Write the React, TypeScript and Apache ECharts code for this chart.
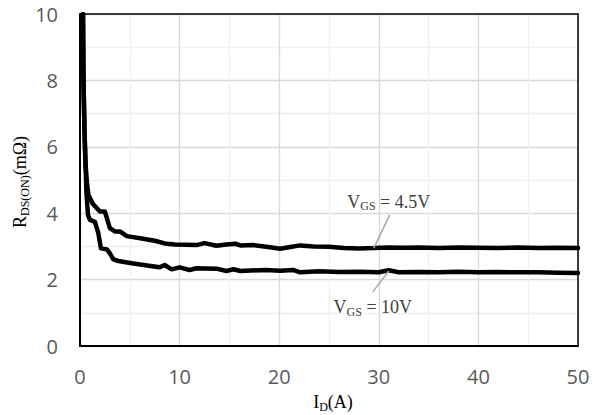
import React, { useEffect, useRef } from "react";
import * as echarts from "echarts";

const xTicks = [0, 10, 20, 30, 40, 50];
const yTicks = [0, 2, 4, 6, 8, 10];

const id45 = [0.3, 0.35, 0.45, 0.55, 0.7, 0.85, 1.3, 2.0, 2.5, 3.0, 3.5, 4.0, 4.7, 6.2, 7.5, 8.5, 9.5, 11.7, 12.5, 13.7, 14.7, 15.6, 16.1, 17.4, 18.7, 20.1, 21.1, 22.1, 23.5, 25, 26.5, 28, 29.5, 31, 32.5, 34, 36, 38, 40, 42, 44, 46, 48, 50];
const r45 = [10, 8, 6.5, 5.5, 4.9, 4.55, 4.28, 4.05, 4.05, 3.55, 3.45, 3.45, 3.31, 3.24, 3.17, 3.09, 3.06, 3.04, 3.1, 3.02, 3.06, 3.08, 3.03, 3.04, 2.99, 2.93, 2.98, 3.03, 3.0, 2.99, 2.95, 2.94, 2.95, 2.97, 2.96, 2.97, 2.95, 2.97, 2.96, 2.95, 2.97, 2.95, 2.96, 2.95];

const id10 = [0.3, 0.35, 0.45, 0.55, 0.65, 0.8, 1.0, 1.5, 1.84, 2.1, 2.7, 3.0, 3.35, 3.85, 5.2, 6.9, 8.0, 8.5, 9.2, 10.0, 11.0, 11.7, 13.7, 14.7, 15.4, 16.1, 18.7, 20.1, 21.4, 22.1, 24, 26, 28, 30, 31, 32, 34, 36, 38, 40, 42, 44, 46, 48, 50];
const r10 = [10, 8, 6.5, 5.5, 4.6, 3.95, 3.8, 3.74, 3.4, 2.94, 2.91, 2.79, 2.61, 2.56, 2.49, 2.42, 2.37, 2.44, 2.31, 2.37, 2.29, 2.34, 2.33, 2.26, 2.31, 2.26, 2.29, 2.27, 2.29, 2.22, 2.25, 2.23, 2.24, 2.22, 2.28, 2.22, 2.23, 2.22, 2.24, 2.22, 2.23, 2.22, 2.22, 2.21, 2.2];

// annotation anchors in data units: text centre, leader start, leader end
const label45 = { text: [31.0, 4.34], from: [31.1, 3.95], to: [29.5, 2.95] };
const label10 = { text: [29.4, 1.17], from: [31.0, 2.26], to: [29.4, 1.63] };

const serif = "'Liberation Serif', 'Times New Roman', serif";
const richSub = {
  m: { fontFamily: serif, fontSize: 18, color: "#404040" },
  s: { fontFamily: serif, fontSize: 12, color: "#404040", padding: [9, 0, 0, 0] },
};

const annot = (l: { text: number[]; from: number[]; to: number[] }, txt: string) => ({
  markLine: {
    silent: true,
    symbol: "none",
    lineStyle: { color: "#a6a6a6", width: 1.5, type: "solid" },
    label: { show: false },
    data: [[{ coord: l.from }, { coord: l.to }]],
  },
  markPoint: {
    silent: true,
    symbol: "circle",
    symbolSize: 0,
    data: [{ coord: l.text }],
    label: { show: true, position: "inside", formatter: txt, rich: richSub },
  },
});

export default function App() {
  const ref = useRef<HTMLDivElement>(null);
  useEffect(() => {
    document.body.style.margin = "0";
    const chart = echarts.init(ref.current!, null, { renderer: "svg" });
    const pair = (xs: number[], ys: number[]) => xs.map((x, i) => [x, ys[i]]);
    const xMin = xTicks[0], xMax = xTicks[xTicks.length - 1];
    const yMin = yTicks[0], yMax = yTicks[yTicks.length - 1];
    const borderAxis = (pos: string) => ({
      type: "value",
      position: pos,
      axisLine: { show: true, onZero: false, lineStyle: { color: "#000", width: 1.5 } },
      axisTick: { show: false },
      axisLabel: { show: false },
      splitLine: { show: false },
    });
    chart.setOption({
      animation: false,
      grid: { left: 80, top: 14, right: 22, bottom: 69 },
      xAxis: [
        {
          type: "value",
          min: xMin,
          max: xMax,
          interval: 10,
          axisLine: { show: true, onZero: false, lineStyle: { color: "#000", width: 2 } },
          axisTick: { show: false },
          minorTick: { show: false, splitNumber: 2 },
          splitLine: { show: true, lineStyle: { color: "#d9d9d9", width: 1.3 } },
          minorSplitLine: { show: true, lineStyle: { color: "#f0f0f0", width: 1.3 } },
          axisLabel: { color: "#595959", fontFamily: "'Open Sans'", fontSize: 20, margin: 20 },
        },
        { ...borderAxis("top"), min: xMin, max: xMax, interval: 10 },
      ],
      yAxis: [
        {
          type: "value",
          min: yMin,
          max: yMax,
          interval: 2,
          axisLine: { show: true, onZero: false, lineStyle: { color: "#000", width: 2 } },
          axisTick: { show: false },
          minorTick: { show: false, splitNumber: 2 },
          splitLine: { show: true, lineStyle: { color: "#d9d9d9", width: 1.3 } },
          minorSplitLine: { show: true, lineStyle: { color: "#f0f0f0", width: 1.3 } },
          axisLabel: { color: "#595959", fontFamily: "'Open Sans'", fontSize: 20, margin: 22 },
        },
        { ...borderAxis("right"), min: yMin, max: yMax, interval: 2 },
      ],
      graphic: [
        {
          type: "text",
          x: 333,
          y: 402,
          style: { text: "{m|I}{s|D}{m|(A)}", rich: richSub, align: "center", verticalAlign: "middle" },
        },
        {
          type: "text",
          x: 20,
          y: 182,
          rotation: Math.PI / 2,
          style: { text: "{m|R}{s|DS(ON)}{m|(mΩ)}", rich: richSub, align: "center", verticalAlign: "middle" },
        },
      ],
      series: [
        {
          name: "VGS = 4.5V",
          type: "line",
          data: pair(id45, r45),
          showSymbol: false,
          lineStyle: { color: "#000", width: 4.5, join: "round", cap: "round" },
          ...annot(label45, "{m|V}{s|GS}{m| = 4.5V}"),
        },
        {
          name: "VGS = 10V",
          type: "line",
          data: pair(id10, r10),
          showSymbol: false,
          lineStyle: { color: "#000", width: 4.5, join: "round", cap: "round" },
          ...annot(label10, "{m|V}{s|GS}{m| = 10V}"),
        },
      ],
    });
    return () => chart.dispose();
  }, []);
  return <div ref={ref} style={{ width: 600, height: 415 }} />;
}
